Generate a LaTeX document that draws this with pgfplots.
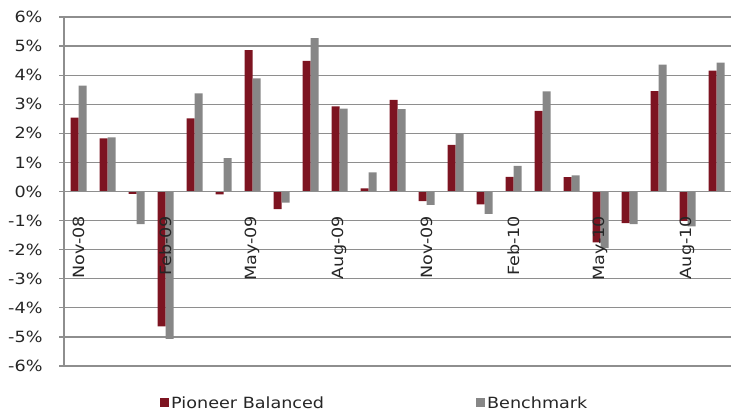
\documentclass[border=0pt]{standalone}
\usepackage{pgfplots}
\pgfplotsset{compat=1.18}
\usepackage{fontspec}
\setmainfont{DejaVu Sans}[FakeStretch=1.14]
\definecolor{pioneer}{HTML}{7D1421}
\definecolor{bench}{HTML}{878787}
\definecolor{gridc}{HTML}{8E8E8E}
\newcommand\lblfont{\fontsize{15.5}{18}\selectfont}
% tick labels above the bars, grid below them
\pgfplotsset{
  layers/labelsontop/.define layer set={
    axis background,axis grid,main,axis ticks,axis lines,axis tick labels,axis descriptions,axis foreground
  }{
    grid style={/pgfplots/on layer=axis grid},
    tick style={/pgfplots/on layer=axis ticks},
    axis line style={/pgfplots/on layer=axis lines},
    label style={/pgfplots/on layer=axis descriptions},
    legend style={/pgfplots/on layer=axis descriptions},
    title style={/pgfplots/on layer=axis descriptions},
    colorbar style={/pgfplots/on layer=axis descriptions},
    ticklabel style={/pgfplots/on layer=axis tick labels},
    axis background@ style={/pgfplots/on layer=axis background},
    3d box foreground style={/pgfplots/on layer=axis foreground},
  },
}
\begin{document}
\begin{tikzpicture}
\begin{axis}[
    set layers=labelsontop,
    at={(64bp,46bp)}, anchor=south west,
    scale only axis,
    width=667bp, height=349bp,
    ybar=0pt, bar width=8bp,
    xmin=-0.5, xmax=22.5,
    ymin=-6, ymax=6,
    ytick={-6,-5,...,6},
    yticklabel={\pgfmathprintnumber{\tick}\%},
    /pgf/number format/assume math mode=true,
    axis y line=left, axis x line=middle,
    axis line style={gridc, line width=1.2pt, -},
    ymajorgrids, grid style={gridc, line width=1.2pt},
    ytick style={gridc, line width=1.2pt},
    tick align=outside, major tick length=5bp,
    xtick={0,3,...,21},
    xticklabels={Nov-08,Feb-09,May-09,Aug-09,Nov-09,Feb-10,May-10,Aug-10},
    xtick style={draw=none},
    extra x ticks={2.5,5.5,8.5,11.5,14.5,17.5,20.5},
    extra x tick labels={},
    extra x tick style={xtick style={gridc, line width=1pt}, major tick length=5bp, grid=none},
    xticklabel style={yshift=-16bp, rotate=90, anchor=east, font=\lblfont, text=black!85},
    yticklabel style={font=\lblfont, text=black!85, xshift=-13bp},
    legend style={at={(0.466,-0.106)}, anchor=center, draw=none, fill=none, legend columns=-1,
      font=\lblfont, text=black!85, inner sep=0pt,
      /tikz/every even column/.append style={column sep=150bp}},
    legend image code/.code={\fill[#1] (0bp,-4.5bp) rectangle (9bp,4.5bp);},
    clip=false,
]
\addplot[draw=none, fill=pioneer] coordinates {
(0,2.54) (1,1.83) (2,-0.08) (3,-4.64) (4,2.51) (5,-0.10) (6,4.86) (7,-0.61)
(8,4.49) (9,2.93) (10,0.11) (11,3.15) (12,-0.33) (13,1.60) (14,-0.44) (15,0.50)
(16,2.77) (17,0.49) (18,-1.75) (19,-1.09) (20,3.45) (21,-1.01) (22,4.16)};
\addplot[draw=none, fill=bench] coordinates {
(0,3.64) (1,1.86) (2,-1.12) (3,-5.07) (4,3.37) (5,1.15) (6,3.89) (7,-0.38)
(8,5.27) (9,2.85) (10,0.66) (11,2.83) (12,-0.46) (13,1.99) (14,-0.77) (15,0.88)
(16,3.44) (17,0.55) (18,-1.95) (19,-1.12) (20,4.36) (21,-1.20) (22,4.43)};
\legend{Pioneer Balanced, Benchmark}
\end{axis}
\pgfresetboundingbox
\path (0,0) rectangle (731bp,412bp);
\end{tikzpicture}
\end{document}
